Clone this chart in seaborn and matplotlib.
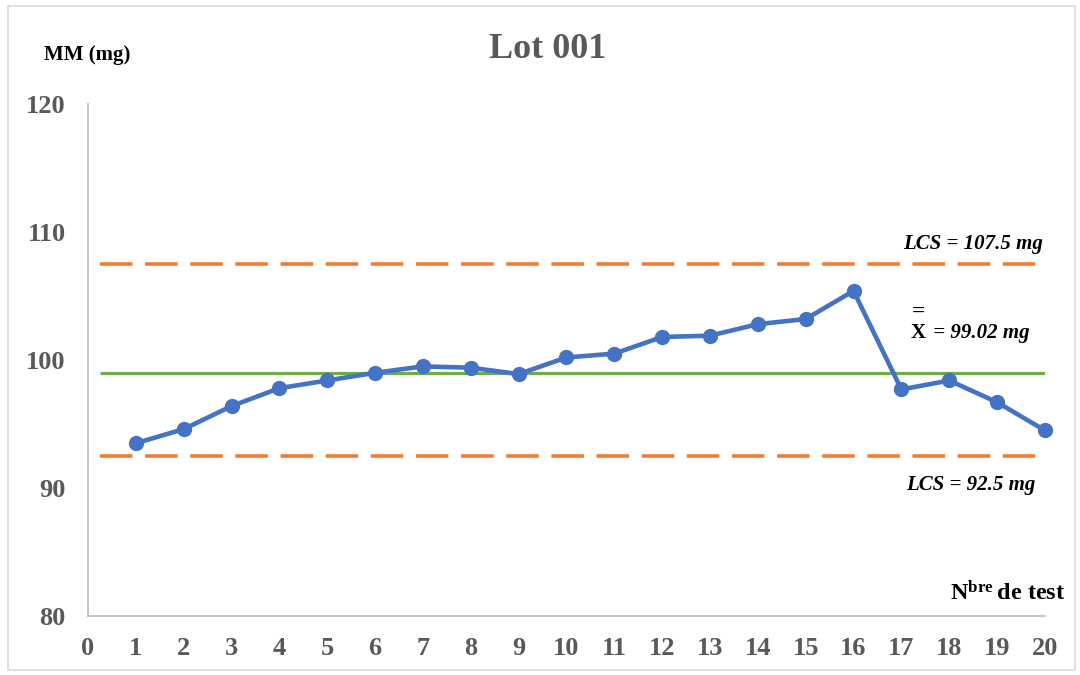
import matplotlib
matplotlib.use("Agg")
import matplotlib.pyplot as plt
import seaborn as sns
import pandas as pd
from matplotlib.patches import Rectangle

# Test number and measured mean mass (mg)
tests = list(range(1, 21))
masses = [93.5, 94.6, 96.4, 97.8, 98.4, 99.0, 99.5, 99.4, 98.9, 100.2,
          100.5, 101.8, 101.9, 102.8, 103.2, 105.4, 97.7, 98.4, 96.7, 94.5]

# Control limits and grand mean
ucl = 107.5
lcl = 92.5
grand_mean = 99.02

x_ticks = list(range(0, 21))
y_ticks = [80, 90, 100, 110, 120]

df = pd.DataFrame({"test": tests, "mass": masses})

sns.set_style("white")
plt.rcParams["font.family"] = ["Liberation Serif", "DejaVu Serif"]
plt.rcParams["mathtext.fontset"] = "custom"
plt.rcParams["mathtext.rm"] = "Liberation Serif"
plt.rcParams["mathtext.bf"] = "Liberation Serif:bold"

fig = plt.figure(figsize=(10.8, 6.75), dpi=100)
ax = fig.add_axes([0.0815, 0.0874, 0.886, 0.7585])

grey = "#595959"
blue = "#4472C4"
orange = "#ED7D31"
green = "#70AD47"

# Control limit lines
ax.hlines([ucl, lcl], 0.25, 20, colors=orange, linewidth=2.6,
          linestyles=(0, (9, 3.5)), zorder=2)
ax.hlines(grand_mean, 0.25, 20, colors=green, linewidth=2.3, zorder=2)

sns.lineplot(data=df, x="test", y="mass", ax=ax, color=blue, linewidth=3.3,
             marker="o", markersize=11, markeredgewidth=0, zorder=3,
             clip_on=False)

ax.set_xlim(0, 20)
ax.set_ylim(80, 120)
ax.set_xticks(x_ticks)
ax.set_yticks(y_ticks)
ax.set_xlabel("")
ax.set_ylabel("")
for lab in ax.get_xticklabels() + ax.get_yticklabels():
    lab.set_fontsize(19)
    lab.set_fontweight("bold")
    lab.set_color(grey)
ax.tick_params(axis="both", length=0)
ax.tick_params(axis="x", pad=15)
ax.tick_params(axis="y", pad=16)

for side in ("top", "right"):
    ax.spines[side].set_visible(False)
for side in ("left", "bottom"):
    ax.spines[side].set_color("#BFBFBF")
    ax.spines[side].set_linewidth(1.3)

# Annotations
ax.text(18.5, 109.1, "LCS = 107.5 mg", fontsize=15, fontweight="bold",
        fontstyle="italic", ha="center", va="center", color="black")
ax.text(18.45, 90.2, "LCS = 92.5 mg", fontsize=15, fontweight="bold",
        fontstyle="italic", ha="center", va="center", color="black")
ax.text(17.2, 102.1, "X", fontsize=15, fontweight="bold",
        ha="left", va="center", color="black")
ax.text(17.22, 103.7, "=", fontsize=17, fontweight="bold",
        ha="left", va="center", color="black")
ax.text(17.55, 102.1, " = 99.02 mg", fontsize=15, fontweight="bold",
        fontstyle="italic", ha="left", va="center", color="black")
ax.text(20.42, 81.8, r"$\mathbf{N^{bre}}\,$de test", fontsize=17.5,
        fontweight="bold", ha="right", va="center", color="black")

fig.text(0.507, 0.926, "Lot 001", fontsize=26, fontweight="bold",
         ha="center", va="center", color=grey)
fig.text(0.041, 0.918, "MM (mg)", fontsize=15, fontweight="bold",
         ha="left", va="center", color="black")

# Light frame around the chart area
fig.patches.append(Rectangle((8 / 1080, 1 - 670 / 675), 1067 / 1080, 664 / 675,
                             transform=fig.transFigure, fill=False,
                             edgecolor="#D9D9D9", linewidth=1.2))

fig.savefig("out.png", dpi=100)
